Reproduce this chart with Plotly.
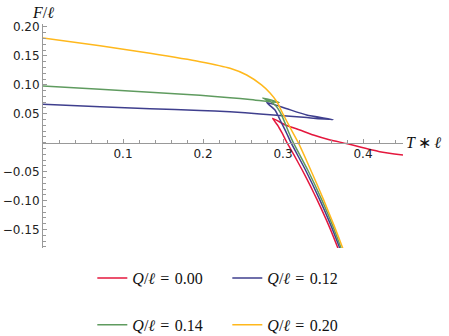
import plotly.graph_objects as go

# ---------------- data (T*l, F/l) ----------------
# Q/l = 0.00
red_upper_T = [0.450, 0.421, 0.379, 0.359, 0.338, 0.321, 0.303, 0.287]
red_upper_F = [-0.0212, -0.0155, -0.0014, 0.0047, 0.0133, 0.0219, 0.0306, 0.0421]
red_lower_T = [0.2871, 0.2931, 0.2988, 0.3050, 0.3137, 0.3240, 0.3342, 0.3427, 0.3569, 0.3686, 0.3709]
red_lower_F = [0.0421, 0.0306, 0.0168, 0.0000, -0.0212, -0.0472, -0.0747, -0.0988, -0.1420, -0.1818, -0.1900]

# Q/l = 0.12
blue_small_T = [0.0, 0.0713, 0.1338, 0.1963, 0.2338, 0.2713, 0.3213, 0.3629]
blue_small_F = [0.0663, 0.0622, 0.0587, 0.0556, 0.0535, 0.0496, 0.0444, 0.0396]
blue_mid_T = [0.3629, 0.3296, 0.3038, 0.2796]
blue_mid_F = [0.0396, 0.0478, 0.0591, 0.0694]
blue_large_T = [0.2796, 0.2900, 0.2988, 0.3044, 0.3100, 0.3281, 0.3460, 0.3596, 0.3709, 0.3731]
blue_large_F = [0.0694, 0.0565, 0.0323, 0.0168, 0.0000, -0.0472, -0.0988, -0.1420, -0.1818, -0.1900]

# Q/l = 0.14
green_small_T = [0.0, 0.0713, 0.1338, 0.1963, 0.2338, 0.2588, 0.2956]
green_small_F = [0.0979, 0.0922, 0.0870, 0.0819, 0.0777, 0.0746, 0.0691]
green_mid_T = [0.2956, 0.2850, 0.2746]
green_mid_F = [0.0691, 0.0737, 0.0772]
green_large_T = [0.2746, 0.2838, 0.2913, 0.2969, 0.3019, 0.3075, 0.3129, 0.3309, 0.3485, 0.3617, 0.3725, 0.3746]
green_large_F = [0.0772, 0.0712, 0.0634, 0.0514, 0.0359, 0.0168, 0.0000, -0.0472, -0.0988, -0.1420, -0.1818, -0.1900]

# Q/l = 0.20
yellow_T = [0.0, 0.0713, 0.1338, 0.1963, 0.2338, 0.2546, 0.2731, 0.2838, 0.2925, 0.3006, 0.3088,
            0.3191, 0.3302, 0.3418, 0.3508, 0.3635, 0.3746, 0.3768]
yellow_F = [0.1808, 0.1675, 0.1544, 0.1399, 0.1285, 0.1169, 0.0997, 0.0858, 0.0703, 0.0479, 0.0263,
            0.0000, -0.0333, -0.0696, -0.0988, -0.1420, -0.1818, -0.1900]

charges = ["0.00", "0.12", "0.14", "0.20"]
colors = ["#E4173D", "#3F3F8E", "#5F9B5F", "#FFB81C"]

x_ticks = [0.1, 0.2, 0.3, 0.4]
y_ticks = [-0.15, -0.10, -0.05, 0.05, 0.10, 0.15, 0.20]
x_range = [0.0, 0.45]
y_range = [-0.1819, 0.205]

series = [
    (red_upper_T + red_lower_T[1:], red_upper_F + red_lower_F[1:]),
    (blue_small_T + blue_mid_T[1:] + blue_large_T[1:], blue_small_F + blue_mid_F[1:] + blue_large_F[1:]),
    (green_small_T + green_mid_T[1:] + green_large_T[1:], green_small_F + green_mid_F[1:] + green_large_F[1:]),
    (yellow_T, yellow_F),
]

fig = go.Figure()
for i, ((tx, fy), q, c) in enumerate(zip(series, charges, colors)):
    fig.add_trace(go.Scatter(
        x=tx, y=fy, mode="lines",
        line=dict(color=c, width=1.5, shape="spline", smoothing=0.5),
        name="<i>Q</i>/<i>ℓ</i>\u2004=\u2004" + q,
        legend="legend" if i < 2 else "legend2",
    ))

axis_gray = "#999999"
tickfont = dict(family="DejaVu Sans", size=12, color="#222222")
zero_frac = (0 - y_range[0]) / (y_range[1] - y_range[0])
legend_font = dict(family="Liberation Serif", size=16, color="#111111")

fig.update_layout(
    width=449, height=336,
    margin=dict(l=43, r=46, t=24, b=88, autoexpand=False),
    paper_bgcolor="white", plot_bgcolor="white",
    xaxis=dict(
        range=x_range, showgrid=False, zeroline=False,
        showline=True, linecolor=axis_gray, linewidth=1,
        anchor="free", position=zero_frac,
        ticks="inside", ticklen=4, tickcolor=axis_gray, tickwidth=1,
        tickvals=x_ticks, ticktext=[f"{v:.1f}" for v in x_ticks],
        tickfont=tickfont,
        minor=dict(ticks="inside", dtick=0.02, tick0=0, ticklen=2.5, tickcolor=axis_gray, showgrid=False),
    ),
    yaxis=dict(
        range=y_range, showgrid=False, zeroline=False,
        showline=True, linecolor=axis_gray, linewidth=1,
        ticks="inside", ticklen=4, tickcolor=axis_gray, tickwidth=1,
        tickvals=y_ticks, ticktext=[f"{v:.2f}".replace("-", "\u2212") for v in y_ticks],
        tickfont=tickfont,
        minor=dict(ticks="inside", dtick=0.01, tick0=0, ticklen=2.5, tickcolor=axis_gray, showgrid=False),
    ),
    legend=dict(
        orientation="h", xref="container", yref="container",
        x=0.2056, y=0.1726, xanchor="left", yanchor="middle",
        font=legend_font, entrywidth=90, bgcolor="rgba(0,0,0,0)",
    ),
    legend2=dict(
        orientation="h", xref="container", yref="container",
        x=0.2056, y=0.033, xanchor="left", yanchor="middle",
        font=legend_font, entrywidth=90, bgcolor="rgba(0,0,0,0)",
    ),
    annotations=[
        dict(text="<i>F</i>/<i>ℓ</i>", xref="x", yref="paper", x=0, y=1,
             xanchor="center", yanchor="bottom", yshift=1, showarrow=False,
             font=legend_font),
        dict(text="<i>T</i>\u2009\u2217\u2009<i>ℓ</i>", xref="x", yref="y", x=x_range[1], y=0,
             xanchor="left", yanchor="middle", xshift=1, showarrow=False,
             font=legend_font),
    ],
)

fig.write_html("out.html",
               config={"displayModeBar": False},
               post_script="document.body.style.margin='0';document.body.style.overflow='hidden';")
